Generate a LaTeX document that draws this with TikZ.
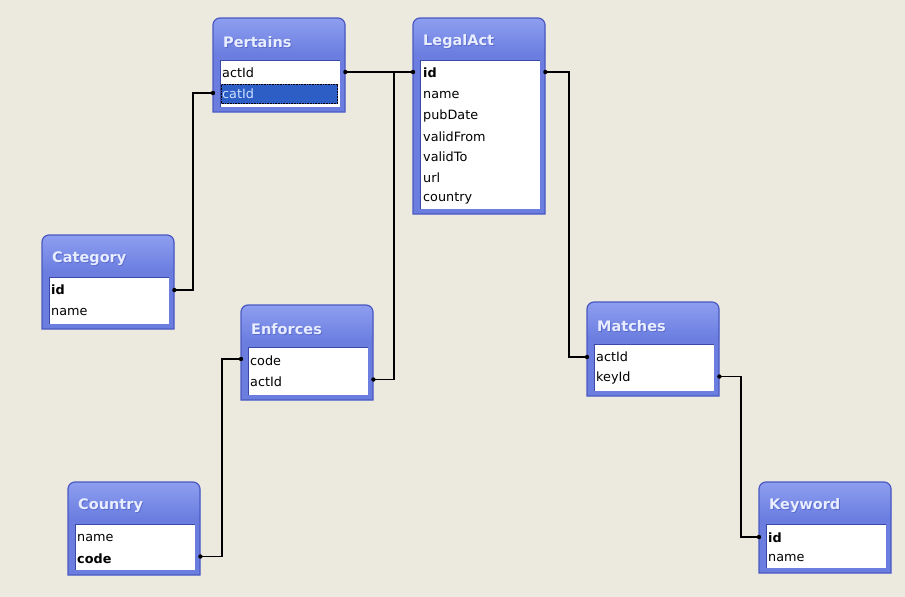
\documentclass[tikz,border=0pt]{standalone}
\usepackage{fontspec}
\setmainfont{DejaVu Sans}
\usetikzlibrary{calc}
\definecolor{bg}{HTML}{ECE9DF}
\definecolor{boxbody}{HTML}{6B7EE0}
\definecolor{boxtop}{HTML}{8E9EF0}
\definecolor{boxedge}{HTML}{4A59C2}
\definecolor{listedge}{HTML}{3A48A8}
\definecolor{titletext}{HTML}{E8EEFF}
\definecolor{titleshadow}{HTML}{5A6ACC}
\definecolor{selblue}{HTML}{2C5EC6}
\definecolor{seltext}{HTML}{CFE0FF}
\tikzset{
  rowtext/.style={inner sep=0pt, anchor=west, font=\fontsize{12.8}{14}\selectfont, text=black},
  titlenode/.style={inner sep=0pt, anchor=west, font=\fontsize{14.5}{17}\selectfont\bfseries},
  conn/.style={draw=black, line width=1.3pt},
  frame/.style={inner sep=0pt, anchor=north west, minimum width=132pt},
}
% #1 name, #2 x, #3 y, #4 height, #5 title
\newcommand{\dbbox}[5]{%
  \begin{scope}[shift={(#2,#3)}]
    \fill[boxbody] (0,#4) [rounded corners=7] -- (0,0) -- (132,0) [sharp corners] -- (132,#4) -- cycle;
    \shade[top color=boxtop, bottom color=boxbody] (0,36) [rounded corners=7] -- (0,0) -- (132,0) [sharp corners] -- (132,36) -- cycle;
    \draw[boxedge, line width=1.2pt] (0,#4) [rounded corners=7] -- (0,0) -- (132,0) [sharp corners] -- (132,#4) -- cycle;
    \fill[white] (7,42) rectangle (127,#4-5);
    \draw[listedge, line width=1pt] (7,#4-5) -- (7,42) -- (127,42);
    \node[frame, minimum height=#4 pt] (#1) at (0,0) {};
    \node[titlenode, text=titleshadow] at (10.8,24.8) {#5};
    \node[titlenode, text=titletext] (#1-t) at (10,24) {#5};
  \end{scope}}
\newcommand{\dbrow}[4]{\node[rowtext] (#1) at (#2,#3) {#4};}
\newcommand{\jdot}[1]{\fill[black] (#1) circle (2.2pt);}
\begin{document}
\begin{tikzpicture}[x=1pt,y=-1pt]
\useasboundingbox (0,0) rectangle (905,597);
\fill[bg] (0,0) rectangle (905,597);

% tables
\dbbox{Pertains}{213}{18}{94}{Pertains}
\begin{scope}[shift={(213,18)}]
  \fill[selblue] (8,66) rectangle (125,86);
  \draw[black, densely dotted, line width=0.6pt] (8.5,66.5) rectangle (124.5,85.5);
  \dbrow{Pertains-r1}{9}{55}{actId}
  \node[rowtext, text=seltext] (Pertains-r2) at (9,76) {catId};
\end{scope}

\dbbox{LegalAct}{413}{18}{196}{LegalAct}
\begin{scope}[shift={(413,18)}]
  \dbrow{LegalAct-r1}{10}{55}{\bfseries id}
  \dbrow{LegalAct-r2}{10}{77}{name}
  \dbrow{LegalAct-r3}{10}{98}{pubDate}
  \dbrow{LegalAct-r4}{10}{118.5}{validFrom}
  \dbrow{LegalAct-r5}{10}{139}{validTo}
  \dbrow{LegalAct-r6}{10}{159.5}{url}
  \dbrow{LegalAct-r7}{10}{180}{country}
\end{scope}

\dbbox{Category}{42}{235}{94}{Category}
\begin{scope}[shift={(42,235)}]
  \dbrow{Category-r1}{9}{55}{\bfseries id}
  \dbrow{Category-r2}{9}{77}{name}
\end{scope}

\dbbox{Enforces}{241}{305}{95}{Enforces}
\begin{scope}[shift={(241,305)}]
  \dbrow{Enforces-r1}{9}{56}{code}
  \dbrow{Enforces-r2}{9}{76.5}{actId}
\end{scope}

\dbbox{Matches}{587}{302}{94}{Matches}
\begin{scope}[shift={(587,302)}]
  \dbrow{Matches-r1}{9}{55}{actId}
  \dbrow{Matches-r2}{9}{75.5}{keyId}
\end{scope}

\dbbox{Country}{68}{482}{93}{Country}
\begin{scope}[shift={(68,482)}]
  \dbrow{Country-r1}{9}{56}{name}
  \dbrow{Country-r2}{9}{76.5}{\bfseries code}
\end{scope}

\dbbox{Keyword}{759}{482}{91}{Keyword}
\begin{scope}[shift={(759,482)}]
  \dbrow{Keyword-r1}{9}{56}{\bfseries id}
  \dbrow{Keyword-r2}{9}{76.5}{name}
\end{scope}

% connector helper coordinates
\coordinate (xj1) at (394,0);
\coordinate (xj2) at (193,0);
\coordinate (xj3) at (222,0);
\coordinate (xj4) at (569,0);
\coordinate (xj5) at (741,0);

\coordinate (pa) at ($(Pertains.east |- Pertains-r1)+(0,-1)$);
\coordinate (la) at ($(LegalAct.west |- LegalAct-r1)+(0,-1)$);
\coordinate (lb) at ($(LegalAct.east |- LegalAct-r1)+(0,-1)$);
\coordinate (pc) at ($(Pertains.west |- Pertains-r2)+(0,-1)$);
\coordinate (ca) at (Category.east |- Category-r1);
\coordinate (ea) at ($(Enforces.east |- Enforces-r2)+(0,-2)$);
\coordinate (ec) at ($(Enforces.west |- Enforces-r1)+(0,-2)$);
\coordinate (cc) at ($(Country.east |- Country-r2)+(0,-2)$);
\coordinate (ma) at ($(Matches.west |- Matches-r1)+(0,0)$);
\coordinate (mk) at ($(Matches.east |- Matches-r2)+(0,-1)$);
\coordinate (ki) at ($(Keyword.west |- Keyword-r1)+(0,-1)$);

\draw[conn] (pa) -- (la);
\draw[conn] (ea) -| (xj1 |- pa);
\draw[conn] (ca) -| (xj2 |- pc) -- (pc);
\draw[conn] (ec) -| (xj3 |- cc) -- (cc);
\draw[conn] (lb) -| (xj4 |- ma) -- (ma);
\draw[conn] (mk) -| (xj5 |- ki) -- (ki);

\foreach \p in {pa,la,lb,pc,ca,ea,ec,cc,ma,mk,ki} {\jdot{\p}}
\end{tikzpicture}
\end{document}
